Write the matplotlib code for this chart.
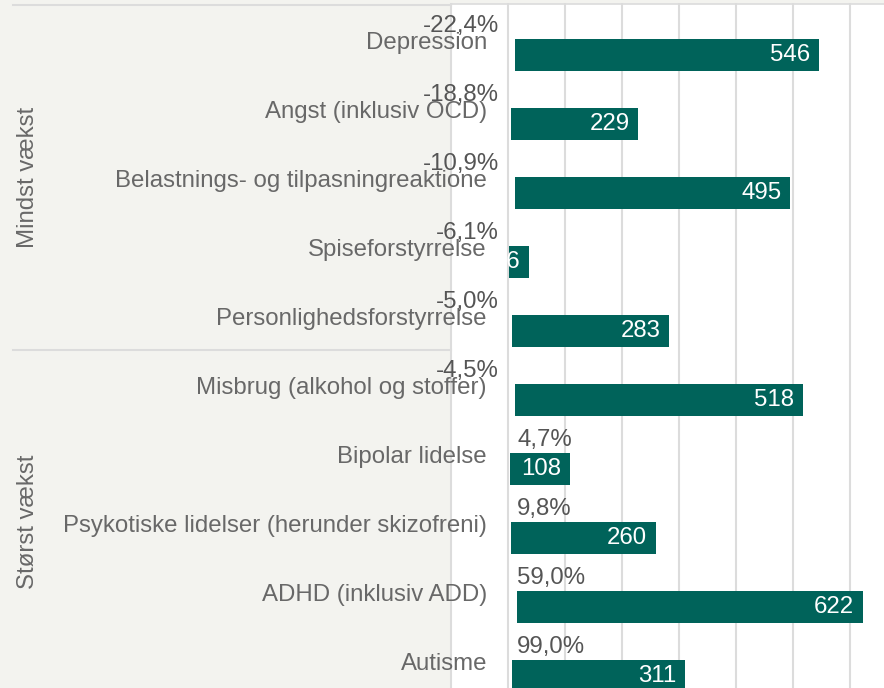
import matplotlib
matplotlib.use('Agg')
import matplotlib.pyplot as plt
from matplotlib.lines import Line2D
from matplotlib.transforms import Bbox, TransformedBbox

plt.rcParams['font.family'] = ['Liberation Sans', 'DejaVu Sans']

# Data
kategorier = ['Depression', 'Angst (inklusiv OCD)', 'Belastnings- og tilpasningreaktione',
              'Spiseforstyrrelse', 'Personlighedsforstyrrelse', 'Misbrug (alkohol og stoffer)',
              'Bipolar lidelse', 'Psykotiske lidelser (herunder skizofreni)',
              'ADHD (inklusiv ADD)', 'Autisme']
antal = [546, 229, 495, 36, 283, 518, 108, 260, 622, 311]
vaekst = [-22.4, -18.8, -10.9, -6.1, -5.0, -4.5, 4.7, 9.8, 59.0, 99.0]
bar_base = [12.6, 5.4, 12.6, 1.8, 7.2, 12.6, 3.6, 5.4, 16.2, 7.2]
grupper = ['Mindst vækst', 'Størst vækst']

teal = '#00635a'
panel = '#f3f3ef'
grid = '#dcdcdc'
txt = '#686868'
fs = 17.3

W, H = 884, 688
ppu = 0.5565  # pixels per unit
x0 = 508      # pixel position of zero

fig = plt.figure(figsize=(W / 100, H / 100), dpi=100, facecolor=panel)
ax = fig.add_axes([451 / W, 0, (W - 451) / W, (H - 4) / H])
ax.set_facecolor('white')
ax.set_xlim(-(x0 - 451) / ppu, (W - x0) / ppu)
ax.set_ylim((H - 55) / 69, -(55 - 4) / 69)
for s in ['left', 'right', 'bottom']:
    ax.spines[s].set_visible(False)
ax.spines['top'].set_color(grid)
ax.spines['top'].set_linewidth(1.2)
ax.set_xticks([])
ax.set_yticks([])

step = 57 / ppu
for k in range(-1, 7):
    ax.axvline(k * step, color=grid, lw=1.5, zorder=0, clip_on=False)

rows = list(range(len(kategorier)))
ax.barh(rows, antal, left=bar_base, height=32 / 69, color=teal, zorder=2)

clip = TransformedBbox(Bbox([[0, -5], [2000, 20]]), ax.transData)
for i, (kat, n, v, b) in enumerate(zip(kategorier, antal, vaekst, bar_base)):
    ax.text(-21 / ppu, i - 12 / 69, kat, ha='right', va='center', fontsize=fs,
            color=txt, clip_on=False, zorder=3)
    lab = f'{v:.1f}%'.replace('.', ',')
    if v < 0:
        ax.text(-9 / ppu, i - 29 / 69, lab, ha='right', va='center', fontsize=fs,
                color='#555555', clip_on=False, zorder=4)
    else:
        ax.text(9 / ppu, i - 29 / 69, lab, ha='left', va='center', fontsize=fs,
                color='#555555', clip_on=False, zorder=4)
    t = ax.text(b + n - 9 / ppu, i, str(n), ha='right', va='center', fontsize=fs,
                color='white', zorder=5)
    t.set_clip_box(clip)

# group panel
for yp in [5, 350]:
    fig.add_artist(Line2D([13 / W, 451 / W], [1 - yp / H] * 2, color=grid, lw=1.5))
fig.text(28 / W, 1 - 177 / H, grupper[0], rotation=90, ha='center', va='center',
         fontsize=fs, color=txt)
fig.text(28 / W, 1 - 522 / H, grupper[1], rotation=90, ha='center', va='center',
         fontsize=fs, color=txt)

fig.savefig('out.png', dpi=100, facecolor=panel)
